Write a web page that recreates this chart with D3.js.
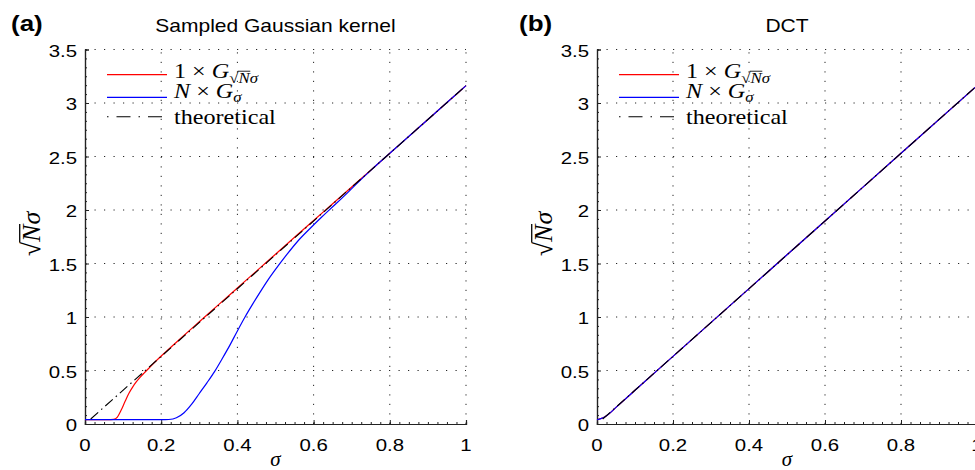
<!DOCTYPE html>
<html>
<head>
<meta charset="utf-8">
<script src="https://cdn.jsdelivr.net/npm/d3@7"></script>
<style>
  html, body { margin: 0; padding: 0; background: #fff; }
  svg { display: block; }
</style>
</head>
<body>
<svg id="chart" width="975" height="470"></svg>
<script>
// ---------------- data ----------------
const xTicks = [0, 0.2, 0.4, 0.6, 0.8, 1];
const xTickLabels = ["0", "0.2", "0.4", "0.6", "0.8", "1"];
const yTicks = [0, 0.5, 1, 1.5, 2, 2.5, 3, 3.5];
const yTickLabels = ["0", "0.5", "1", "1.5", "2", "2.5", "3", "3.5"];

// panel (a): Sampled Gaussian kernel
const aRedSigma = [0, 0.02, 0.04, 0.06, 0.075, 0.085, 0.095, 0.105, 0.115, 0.125, 0.135, 0.145, 0.155, 0.165, 0.175, 0.185, 0.2,
                   0.25, 0.3, 0.35, 0.4, 0.45, 0.5, 0.55, 0.6, 0.65, 0.7, 0.75, 0.8, 0.85, 0.9, 0.95, 1.0];
const aRedValue = [0.04, 0.04, 0.04, 0.04, 0.043, 0.065, 0.13, 0.21, 0.285, 0.345, 0.395, 0.438, 0.476, 0.512, 0.548, 0.584, 0.635,
                   0.797, 0.955, 1.113, 1.271, 1.429, 1.587, 1.745, 1.902, 2.058, 2.215, 2.372, 2.530, 2.688, 2.846, 3.004, 3.162];
const aBlueSigma = [0, 0.1, 0.2, 0.22, 0.24, 0.26, 0.28, 0.30, 0.32, 0.34, 0.36, 0.38, 0.40, 0.42, 0.44, 0.46, 0.48, 0.50,
                    0.53, 0.56, 0.59, 0.62, 0.65, 0.68, 0.71, 0.75, 0.8, 0.9, 1.0];
const aBlueValue = [0.04, 0.04, 0.04, 0.042, 0.058, 0.105, 0.185, 0.285, 0.385, 0.49, 0.61, 0.735, 0.87, 1.0, 1.12, 1.235, 1.345, 1.445,
                    1.585, 1.715, 1.825, 1.93, 2.03, 2.13, 2.235, 2.37, 2.53, 2.846, 3.162];
const theoSigma = [0.015, 1.0];
const theoValue = [0.047, 3.162];

// panel (b): DCT
const bRedSigma = [0, 0.01, 0.02, 0.03, 0.05, 0.1, 0.2, 0.4, 0.6, 0.8, 1.0];
const bRedValue = [0.04, 0.05, 0.065, 0.09, 0.155, 0.315, 0.632, 1.265, 1.897, 2.530, 3.162];
const bBlueSigma = [0, 0.01, 0.02, 0.03, 0.05, 0.1, 0.2, 0.4, 0.6, 0.8, 1.0];
const bBlueValue = [0.04, 0.05, 0.065, 0.09, 0.155, 0.315, 0.632, 1.265, 1.897, 2.530, 3.162];

const titles = ["Sampled Gaussian kernel", "DCT"];
const panelLabels = ["(a)", "(b)"];

// ---------------- drawing ----------------
const svg = d3.select("#chart");
const SANS = "'Liberation Sans', Arial, Helvetica, sans-serif";
const SERIF = "'Liberation Serif', 'Times New Roman', serif";
const SX = 1.2; // horizontal stretch of the original figure

function stretchedText(parent, x, y, str, o) {
  const g = parent.append("g").attr("transform", `translate(${x},${y}) scale(${o.sx || SX},1)`);
  g.append("text")
    .attr("font-family", o.family || SANS)
    .attr("font-size", o.size)
    .attr("font-weight", o.weight || "normal")
    .attr("text-anchor", o.anchor || "start")
    .attr("fill", "#000")
    .text(str);
  return g;
}

// rich math text: parts = [{t, it, sub, over}]
function mathText(parent, x, y, parts, o) {
  const g = parent.append("g").attr("transform", `translate(${x},${y}) ${o.rotate ? "rotate(" + o.rotate + ")" : ""} scale(${o.sx || 1},1)`);
  const t = g.append("text").attr("font-family", SERIF).attr("font-size", o.size).attr("fill", "#000");
  let cur = 0;
  const overs = [];
  let idx = 0;
  parts.forEach(p => {
    const target = p.sub ? o.subDy : 0;
    const ts = t.append("tspan").text(p.t).attr("dy", target - cur);
    cur = target;
    if (p.it) ts.attr("font-style", "italic");
    if (p.sub) ts.attr("font-size", o.size * 0.7);
    if (p.over) overs.push({ start: idx, len: p.t.length, fs: p.sub ? o.size * 0.7 : o.size, base: target });
    idx += p.t.length;
  });
  if (o.anchor === "middle") {
    const w = t.node().getComputedTextLength();
    t.attr("x", -w / 2);
  }
  overs.forEach(ov => {
    const e1 = t.node().getExtentOfChar(ov.start - 1); // the radical sign
    const e2 = t.node().getExtentOfChar(ov.start + ov.len - 1);
    const yy = ov.base - ov.fs * 0.78;
    g.append("line")
      .attr("x1", e1.x + e1.width - 0.6).attr("x2", e2.x + e2.width + 0.5)
      .attr("y1", yy).attr("y2", yy)
      .attr("stroke", "#000").attr("stroke-width", Math.max(0.8, ov.fs * 0.05));
  });
  return g;
}

const yScale = d3.scaleLinear().domain([0, 3.5]).range([424, 49.5]);

const panels = [
  { x0: 85, x1: 466, red: [aRedSigma, aRedValue], blue: [aBlueSigma, aBlueValue] },
  { x0: 597, x1: 977, red: [bRedSigma, bRedValue], blue: [bBlueSigma, bBlueValue] }
];

panels.forEach((P, pi) => {
  const x = d3.scaleLinear().domain([0, 1]).range([P.x0, P.x1]);
  const g = svg.append("g");

  // grid (dotted)
  const grid = g.append("g").attr("stroke", "#000").attr("stroke-width", 1)
    .attr("stroke-dasharray", "1.2,8.3").attr("opacity", 0.85);
  xTicks.filter(v => v > 0).forEach(v => {
    grid.append("line").attr("x1", x(v)).attr("x2", x(v)).attr("y1", yScale(0)).attr("y2", yScale(3.5));
  });
  yTicks.filter(v => v > 0).forEach(v => {
    grid.append("line").attr("x1", x(0)).attr("x2", x(1)).attr("y1", yScale(v)).attr("y2", yScale(v));
  });

  // axes via d3 (ticks inward)
  const xAxis = d3.axisBottom(x).tickValues(xTicks).tickSize(-4).tickFormat("");
  const yAxis = d3.axisLeft(yScale).tickValues(yTicks).tickSize(-4).tickFormat("");
  const xMinor = d3.axisBottom(x).tickValues(d3.range(0, 1.0001, 0.025)).tickSize(-2).tickFormat("");
  const yMinor = d3.axisLeft(yScale).tickValues(d3.range(0, 3.5001, 0.5 / 6)).tickSize(-2).tickFormat("");
  [xAxis, xMinor].forEach(a => {
    g.append("g").attr("transform", `translate(0,${yScale(0)})`).call(a)
      .call(s => s.select(".domain").attr("stroke", "#222").attr("stroke-width", 1.2))
      .call(s => s.selectAll(".tick line").attr("stroke", "#222"));
  });
  [yAxis, yMinor].forEach(a => {
    g.append("g").attr("transform", `translate(${x(0)},0)`).call(a)
      .call(s => s.select(".domain").attr("stroke", "#222").attr("stroke-width", 1.2))
      .call(s => s.selectAll(".tick line").attr("stroke", "#222"));
  });

  // tick labels
  xTicks.forEach((v, i) => stretchedText(g, x(v), 451, xTickLabels[i], { size: 17, anchor: "middle" }));
  yTicks.forEach((v, i) => stretchedText(g, x(0) - 8, yScale(v) + 7, yTickLabels[i], { size: 17, anchor: "end" }));

  // titles
  stretchedText(g, (P.x0 + P.x1) / 2, 32, titles[pi], { size: 17.5, anchor: "middle" });
  stretchedText(svg, pi === 0 ? 11 : 519, 31, panelLabels[pi], { size: 22, weight: "bold", sx: 1.18 });

  // curves
  const line = d3.line().x(d => x(d[0])).y(d => yScale(d[1])).curve(d3.curveMonotoneX);
  const redData = d3.zip(P.red[0], P.red[1]);
  const blueData = d3.zip(P.blue[0], P.blue[1]);
  const theoData = d3.zip(theoSigma, theoValue);
  g.append("path").datum(redData).attr("d", line).attr("fill", "none").attr("stroke", "#ff0000").attr("stroke-width", 1.2);
  g.append("path").datum(blueData).attr("d", line).attr("fill", "none").attr("stroke", "#0000ff").attr("stroke-width", 1.2);
  g.append("path").datum(theoData).attr("d", d3.line().x(d => x(d[0])).y(d => yScale(d[1])))
    .attr("fill", "none").attr("stroke", "#000").attr("stroke-width", 1.1)
    .attr("stroke-dasharray", "10,4,1.5,4");

  // axis labels
  mathText(g, (P.x0 + P.x1) / 2, 466, [{ t: "σ", it: true }], { size: 21, anchor: "middle", subDy: 0 });
  mathText(g, P.x0 - 45, 234, [{ t: "√", it: false }, { t: "N", it: true, over: true }, { t: "σ", it: true }],
    { size: 26, anchor: "middle", rotate: -90, subDy: 0 });

  // legend
  const lx0 = P.x0 + 22, lx1 = P.x0 + 82, tx = P.x0 + 89;
  const rows = [74.7, 97.3, 116.7];
  g.append("line").attr("x1", lx0).attr("x2", lx1).attr("y1", rows[0]).attr("y2", rows[0]).attr("stroke", "#ff0000").attr("stroke-width", 1.2);
  g.append("line").attr("x1", lx0).attr("x2", lx1).attr("y1", rows[1]).attr("y2", rows[1]).attr("stroke", "#0000ff").attr("stroke-width", 1.2);
  g.append("line").attr("x1", lx0).attr("x2", lx1).attr("y1", rows[2]).attr("y2", rows[2]).attr("stroke", "#000").attr("stroke-width", 1.1)
    .attr("stroke-dasharray", "1.5,8,14,8");
  mathText(g, tx, rows[0] + 3, [{ t: "1 × " }, { t: "G", it: true }, { t: "√", sub: true }, { t: "N", it: true, sub: true, over: true }, { t: "σ", it: true, sub: true }],
    { size: 21, sx: 1.15, subDy: 5 });
  mathText(g, tx, rows[1] + 1, [{ t: "N", it: true }, { t: " × " }, { t: "G", it: true }, { t: "σ", it: true, sub: true }],
    { size: 21, sx: 1.15, subDy: 4 });
  mathText(g, tx, rows[2] + 7, [{ t: "theoretical" }], { size: 21, sx: 1.15, subDy: 0 });
});
</script>
</body>
</html>
